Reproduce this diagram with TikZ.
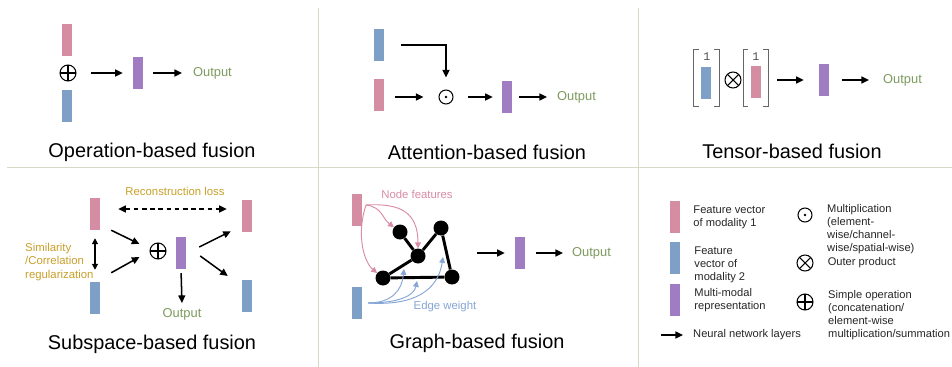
\documentclass[tikz,border=0pt]{standalone}
\usepackage{fontspec}
\setmainfont{Liberation Sans}
\setmonofont{Liberation Mono}
\definecolor{modpink}{HTML}{D48DA3}
\definecolor{modblue}{HTML}{7E9FC6}
\definecolor{modpurple}{HTML}{A07DC2}
\definecolor{outgreen}{HTML}{7D9B5E}
\definecolor{lossgold}{HTML}{C9A02A}
\definecolor{gridline}{HTML}{D3DBC8}
\definecolor{nodepink}{HTML}{D98CA4}
\definecolor{edgeblue}{HTML}{86A6D6}
\usetikzlibrary{arrows.meta,positioning,calc}

\begin{document}
\begin{tikzpicture}[x=0.03cm, y=-0.03cm,
  vec/.style={rectangle, minimum width=0.3cm, minimum height=0.96cm, inner sep=0pt},
  mod1/.style={vec, fill=modpink},
  mod2/.style={vec, fill=modblue},
  fused/.style={vec, fill=modpurple},
  nn/.style={-{Triangle[length=6.5pt,width=6pt]}, line width=1.3pt, shorten <=0.3cm, shorten >=0.3cm},
  outtxt/.style={text=outgreen, font=\fontsize{11}{13}\selectfont},
  losstxt/.style={text=lossgold, font=\fontsize{9.7}{11.5}\selectfont},
  paneltitle/.style={font=\fontsize{17}{20}\selectfont},
  legtxt/.style={font=\fontsize{9.5}{11.3}\selectfont, align=left, inner sep=0pt, text=black!85},
  onetxt/.style={font=\fontsize{10}{11}\ttfamily, text=black!70, inner sep=1pt},
  bracket/.style={draw=black!60, line width=0.7pt},
  opbase/.style={circle, draw, line width=0.9pt, inner sep=0pt, minimum size=0.48cm},
  opplus/.style={opbase, path picture={\draw[line width=0.9pt] (path picture bounding box.north) -- (path picture bounding box.south) (path picture bounding box.west) -- (path picture bounding box.east);}},
  opcross/.style={opbase, path picture={\draw[line width=0.9pt] (path picture bounding box.north east) -- (path picture bounding box.south west) (path picture bounding box.north west) -- (path picture bounding box.south east);}},
  opdot/.style={opbase, minimum size=0.42cm, path picture={\fill (path picture bounding box.center) circle (1.1pt);}},
  gnode/.style={circle, fill=black, inner sep=0pt, minimum size=0.45cm},
  gedge/.style={line width=2.5pt},
  nfarrow/.style={draw=nodepink, line width=0.8pt, -{Triangle[length=5pt,width=5pt]}},
  ewarrow/.style={draw=edgeblue, line width=0.8pt, -{Triangle[length=5pt,width=5pt]}},
  gridln/.style={draw=gridline, line width=0.8pt}]

\fill[white] (0,0) rectangle (952,367);
\useasboundingbox (0,0) rectangle (952,367);

% grid
\draw[gridln] (318,8) -- (318,367) (638,8) -- (638,367) (7,167) -- (952,167);

% operation-based
\node[mod1] (op1a) at (67,40) {};
\node[opplus] (op1x) at (68,73) {};
\node[mod2] (op1b) at (67,106) {};
\node[fused] (op1f) at (138,73) {};
\node[outtxt, anchor=west] (op1o) at (189,73) {Output};
\draw[nn, shorten <=0.42cm] (op1x) -- (op1f);
\draw[nn, shorten >=0.21cm] (op1f) -- (op1o);
\node[paneltitle] (t1) at (152,152) {Operation-based fusion};

% attention-based
\node[mod2] (at2b) at (379,45) {};
\node[mod1] (at2a) at (379,95) {};
\node[opdot] (at2x) at (446,97) {};
\node[fused] (at2f) at (507,97) {};
\node[outtxt, anchor=west] (at2o) at (553,97) {Output};
\draw[nn, shorten <=0pt, shorten >=0.36cm] ([xshift=0.51cm]at2b.east) -| (at2x);
\draw[nn, shorten <=0.33cm, shorten >=0.45cm] (at2a.east |- at2x.west) -- (at2x);
\draw[nn, shorten <=0.42cm, shorten >=0.27cm] (at2x) -- (at2f);
\draw[nn, shorten <=0.21cm, shorten >=0.18cm] (at2f) -- (at2o);
\node[paneltitle] (t2) at (487,152) {Attention-based fusion};

% tensor-based
\node[mod2] (te3a) at (706,83) {};
\node[onetxt] (te3a1) at (707,57) {1};
\node[opcross] (te3x) at (733,80) {};
\node[mod1] (te3b) at (756,82) {};
\node[onetxt] (te3b1) at (756,57) {1};
\node[fused] (te3f) at (824,80) {};
\node[outtxt, anchor=west] (te3o) at (879,80) {Output};
\draw[bracket] (699,49) -| (693,106) -- (699,106);
\draw[bracket] (714,49) -| (719,106) -- (714,106);
\draw[bracket] (748,49) -| (743,106) -- (748,106);
\draw[bracket] (763,49) -| (768,106) -- (763,106);
\draw[nn, shorten <=0.48cm, shorten >=0.45cm] (te3b.east |- te3f.west) -- (te3f);
\draw[nn, shorten <=0.39cm, shorten >=0.3cm] (te3f) -- (te3o);
\node[paneltitle] (t3) at (792,151) {Tensor-based fusion};

% subspace-based
\node[mod1] (su4a) at (95,214) {};
\node[mod2] (su4b) at (95,298) {};
\node[opplus] (su4x) at (158,251) {};
\node[fused] (su4f) at (181,253) {};
\node[mod1] (su4c) at (247,216) {};
\node[mod2] (su4d) at (247,296) {};
\node[outtxt] (su4o) at (182,314) {Output};
\node[losstxt] (su4l) at (175,191) {Reconstruction loss};
\node[losstxt, align=left, anchor=west, inner sep=0pt] (su4s) at (25,262) {Similarity\\/Correlation\\regularization};
\draw[nn, line width=1.1pt, dash pattern=on 4pt off 3pt, {Triangle[length=6.5pt,width=6pt]}-{Triangle[length=6.5pt,width=6pt]}, shorten <=0pt, shorten >=0pt]
  ($(su4a.east)+(18,-5)$) -- ($(su4c.west)+(-15,-7)$);
\draw[nn, {Triangle[length=5pt,width=5pt]}-{Triangle[length=5pt,width=5pt]}, line width=1pt, shorten <=0.24cm, shorten >=0.36cm] (su4a.south) -- (su4b.north);
\draw[nn, shorten <=0pt, shorten >=0pt] ($(su4a.south east)+(11,0)$) -- ($(su4x.west)+(-10,-7)$);
\draw[nn, shorten <=0pt, shorten >=0pt] ($(su4b.north east)+(11,-9)$) -- ($(su4x.west)+(-10,6)$);
\draw[nn, shorten <=0pt, shorten >=0pt] ($(su4f.east)+(13,-6)$) -- ($(su4c.south west)+(-11,-1)$);
\draw[nn, shorten <=0pt, shorten >=0pt] ($(su4f.east)+(14,3)$) -- ($(su4d.west)+(-14,-20)$);
\draw[nn, shorten <=0.12cm, shorten >=0.03cm] (su4f.south) -- (su4o.north);
\node[paneltitle] (t4) at (152,344) {Subspace-based fusion};

% graph-based
\node[mod1] (gr5a) at (357,210) {};
\node[mod2] (gr5b) at (357,303) {};
\node[gnode] (gA) at (400,232) {};
\node[gnode] (gB) at (418,256) {};
\node[gnode] (gC) at (441,228) {};
\node[gnode] (gD) at (383,278) {};
\node[gnode] (gE) at (452,277) {};
\draw[gedge] (gA) -- (gB) (gB) -- (gC) (gB) -- (gD) (gC) -- (gE) (gD) -- (gE);
\node[font=\fontsize{9.7}{11}\selectfont, text=nodepink] (gr5nf) at (417,194) {Node features};
\node[font=\fontsize{9.7}{11}\selectfont, text=edgeblue] (gr5ew) at (445,307) {Edge weight};
\coordinate (nf0) at (366,205);
\draw[nfarrow] (nf0) .. controls (382,207) and (382,218) .. (gA);
\draw[nfarrow] (nf0) .. controls (400,203) and (418,212) .. (gB);
\draw[nfarrow] (nf0) .. controls (356,235) and (364,262) .. (gD);
\coordinate (ew0) at (368,303);
\coordinate (ew1) at (404,269);
\coordinate (ew2) at (417,281);
\coordinate (ew3) at (443,257);
\draw[ewarrow] (ew0) .. controls (392,303) and (402,290) .. (ew1);
\draw[ewarrow] (ew0) .. controls (398,303) and (414,296) .. (ew2);
\draw[ewarrow] (ew0) .. controls (415,306) and (438,290) .. (ew3);
\coordinate (gr5g) at (477,253);
\node[fused] (gr5f) at (520,253) {};
\node[outtxt, anchor=west] (gr5o) at (568,253) {Output};
\draw[nn, shorten <=0pt, shorten >=0.3cm] (gr5g) -- (gr5f);
\draw[nn, shorten <=0.33cm, shorten >=0.15cm] (gr5f) -- (gr5o);
\node[paneltitle] (t5) at (477,343) {Graph-based fusion};

% legend
\node[mod1] (lg1) at (675,217) {};
\node[mod2] (lg2) at (675,258) {};
\node[fused] (lg3) at (675,300) {};
\node[legtxt, right=0.39cm of lg1] (lg1t) {Feature vector\\of modality 1};
\node[legtxt, right=0.42cm of lg2, yshift=-0.2cm] (lg2t) {Feature\\vector of\\modality 2};
\node[legtxt, right=0.42cm of lg3] (lg3t) {Multi-modal\\representation};
\coordinate (lg4) at (661,335);
\node[legtxt, anchor=west] (lg4t) at (693,335) {Neural network layers};
\draw[nn, line width=1.1pt, shorten <=0pt, shorten >=0.3cm] (lg4) -- (lg4t);
\node[opdot] (lg5) at (805,215) {};
\node[legtxt, anchor=west] (lg5t) at (827,229) {Multiplication\\(element-\\wise/channel-\\wise/spatial-wise)};
\node[opcross] (lg6) at (805,263) {};
\node[legtxt, right=0.42cm of lg6] (lg6t) {Outer product};
\node[opplus] (lg7) at (805,302) {};
\node[legtxt, anchor=west] (lg7t) at (828,315) {Simple operation\\(concatenation/\\element-wise\\multiplication/summation};
\end{tikzpicture}
\end{document}
